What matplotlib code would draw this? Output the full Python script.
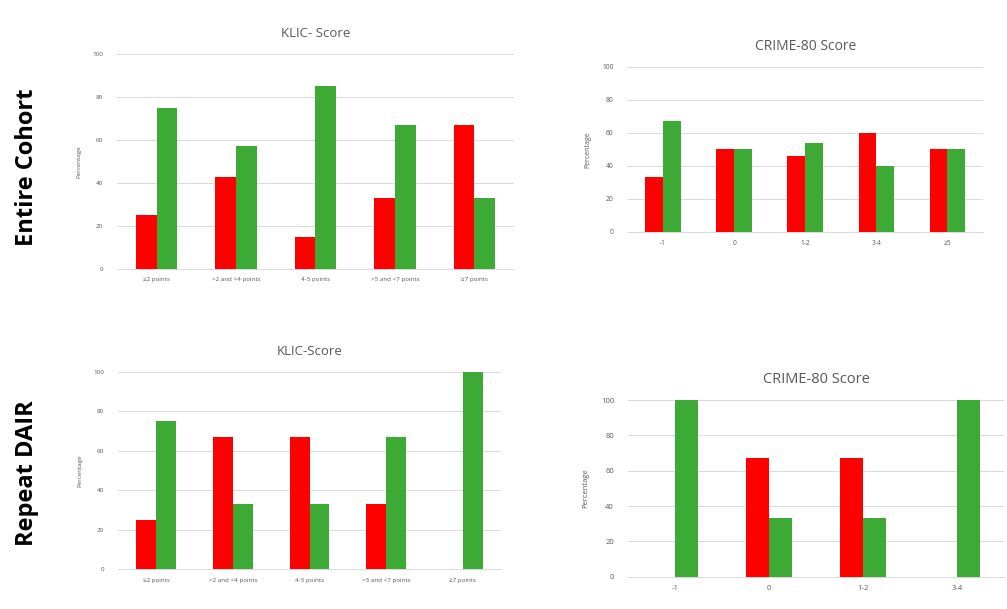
import matplotlib
matplotlib.use("Agg")
import matplotlib.pyplot as plt
import numpy as np

plt.rcParams['font.family'] = ['Open Sans', 'DejaVu Sans']

# KLIC score categories and percentages
klic_labels = ["≤2 points", ">2 and <4 points", "4-5 points", ">5 and <7 points", "≥7 points"]
klic_all_red = [25, 43, 15, 33, 67]
klic_all_green = [75, 57, 85, 67, 33]
klic_rep_red = [25, 67, 67, 33, 0]
klic_rep_green = [75, 33, 33, 67, 100]

# CRIME-80 score categories and percentages
crime_all_labels = ["-1", "0", "1-2", "3-4", "≥5"]
crime_all_red = [33, 50, 46, 60, 50]
crime_all_green = [67, 50, 54, 40, 50]
crime_rep_labels = ["-1", "0", "1-2", "3-4"]
crime_rep_red = [0, 67, 67, 0]
crime_rep_green = [100, 33, 33, 100]

RED = "#FF0000"
GREEN = "#3DAA35"
TEXT = "#595959"
GRID = "#D9D9D9"

fig = plt.figure(figsize=(10.07, 6.09), dpi=100)
fig.patch.set_facecolor("white")


def panel(rect, labels, red, green, title, title_size, tick_size, ylab_size, width):
    ax = fig.add_axes(rect)
    x = np.arange(len(labels))
    ax.bar(x - width / 2, red, width, color=RED, zorder=3)
    ax.bar(x + width / 2, green, width, color=GREEN, zorder=3)
    ax.set_xlim(-0.5, len(labels) - 0.5)
    ax.set_ylim(0, 100)
    ax.set_yticks(range(0, 101, 20))
    ax.set_xticks(x)
    ax.set_xticklabels(labels, fontsize=tick_size, color=TEXT)
    ax.tick_params(axis="y", labelsize=tick_size, labelcolor=TEXT, length=0, pad=10)
    ax.tick_params(axis="x", length=0, pad=6)
    ax.grid(axis="y", color=GRID, linewidth=0.7, zorder=0)
    for s in ("top", "right", "left"):
        ax.spines[s].set_visible(False)
    ax.spines["bottom"].set_color(GRID)
    ax.spines["bottom"].set_linewidth(0.7)
    ax.set_ylabel("Percentage", fontsize=ylab_size, color=TEXT, labelpad=8)
    ax.set_title(title, fontsize=title_size, color=TEXT, pad=12)
    return ax


panel([0.1162, 0.5583, 0.3942, 0.3530], klic_labels, klic_all_red, klic_all_green,
      "KLIC- Score", 9.5, 4.5, 4.5, 0.26)
panel([0.6231, 0.6195, 0.3530, 0.2709], crime_all_labels, crime_all_red, crime_all_green,
      "CRIME-80 Score", 10, 4.8, 5, 0.25)
panel([0.1172, 0.0652, 0.3803, 0.3245], klic_labels, klic_rep_red, klic_rep_green,
      "KLIC-Score", 9.5, 4.5, 4.5, 0.26)
panel([0.6236, 0.0530, 0.3734, 0.2901], crime_rep_labels, crime_rep_red, crime_rep_green,
      "CRIME-80 Score", 10.5, 5.5, 5.5, 0.24)

fig.text(27 / 1007, 1 - 167 / 609, "Entire Cohort", rotation=90, ha="center", va="center",
         fontsize=17, fontweight="bold", color="black")
fig.text(27 / 1007, 1 - 473 / 609, "Repeat DAIR", rotation=90, ha="center", va="center",
         fontsize=17, fontweight="bold", color="black")

fig.savefig("out.png", dpi=100, facecolor="white")
